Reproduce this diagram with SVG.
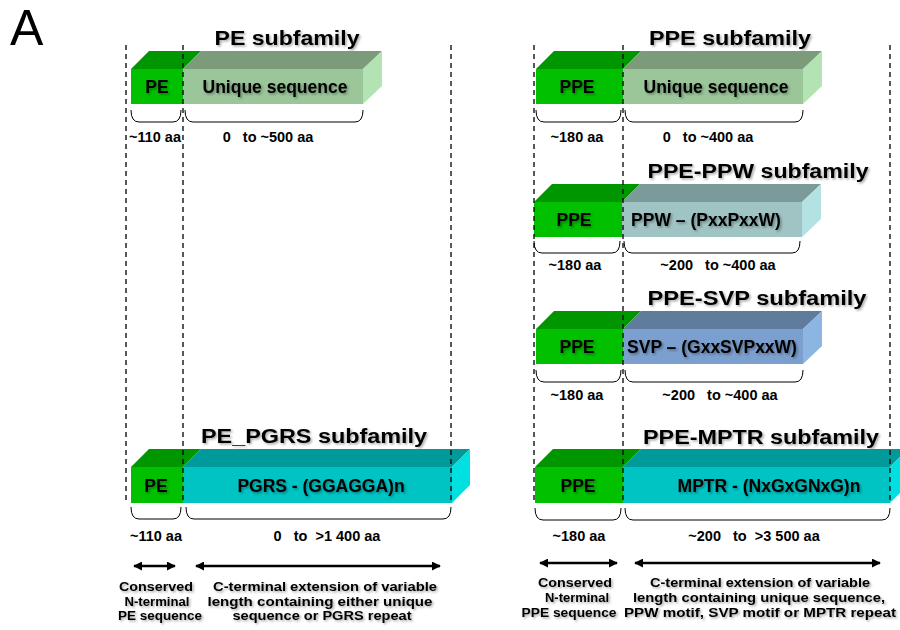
<svg xmlns="http://www.w3.org/2000/svg" width="900" height="630" viewBox="0 0 900 630">
<defs>
<filter id="sh" x="-10%" y="-30%" width="120%" height="160%">
<feDropShadow dx="1.5" dy="1.5" stdDeviation="0.8" flood-color="#000" flood-opacity="0.35"/>
</filter>
<marker id="ah" viewBox="0 0 10 10" refX="9" refY="5" markerWidth="3.6" markerHeight="3.6" orient="auto-start-reverse" markerUnits="strokeWidth">
<path d="M0,0 L10,5 L0,10 Z" fill="#000"/>
</marker>
</defs>
<style>
text{font-family:"Liberation Sans",Arial,sans-serif;font-weight:bold;fill:#000;white-space:pre}
.title{font-size:20px;text-anchor:middle;filter:url(#sh)}
.blk{font-size:17.5px;text-anchor:middle;filter:url(#sh)}
.lbl{font-size:14.5px;text-anchor:middle}
.note{font-size:12.5px;text-anchor:middle;filter:url(#sh)}
.dash{stroke:#000;stroke-width:1.3;stroke-dasharray:5,4;fill:none}
.brace{stroke:#000;stroke-width:1;fill:none}
.arr{stroke:#000;stroke-width:2.5;fill:none;marker-start:url(#ah);marker-end:url(#ah)}
.peF{fill:#00c000}.peT{fill:#009600}
.uqF{fill:#9ac69a}.uqT{fill:#7b9b7b}.uqS{fill:#b3e3b3}
.pwF{fill:#a0c3c3}.pwT{fill:#7b9a9a}.pwS{fill:#b4e2e2}
.svF{fill:#7b9fcf}.svT{fill:#5f7c9c}.svS{fill:#8cb5e2}
.cyF{fill:#00c4c4}.cyT{fill:#009a9a}.cyS{fill:#00e0e0}
</style>
<rect width="900" height="630" fill="#fff"/>
<text x="10" y="45" style="font-weight:normal;font-size:50px">A</text>

<g id="pe-subfamily">
<text class="title" x="287" y="45" textLength="145" lengthAdjust="spacingAndGlyphs">PE subfamily</text>
<polygon class="peT" points="131,69 149,51 201,51 183,69"/>
<rect class="peF" x="131" y="69" width="52" height="35"/>
<polygon class="uqT" points="183,69 201,51 382,51 363,69"/>
<polygon class="uqS" points="363,69 382,51 382,86 363,104"/>
<rect class="uqF" x="183" y="69" width="180" height="35"/>
<text class="blk" x="157" y="93">PE</text>
<text class="blk" x="275" y="93">Unique sequence</text>
<path class="brace" d="M131,110 Q131,122 139,122 L173,122 Q181,122 181,110"/>
<path class="brace" d="M185,110 Q185,122 193,122 L355,122 Q363,122 363,110"/>
<text class="lbl" x="155" y="142">~110 aa</text>
<text class="lbl" x="268" y="142">0   to ~500 aa</text>
</g>

<g id="ppe-subfamily">
<text class="title" x="730" y="45" textLength="162" lengthAdjust="spacingAndGlyphs">PPE subfamily</text>
<polygon class="peT" points="536,69 554,51 641,51 623,69"/>
<rect class="peF" x="536" y="69" width="87" height="35"/>
<polygon class="uqT" points="623,69 641,51 822,51 803,69"/>
<polygon class="uqS" points="803,69 822,51 822,86 803,104"/>
<rect class="uqF" x="623" y="69" width="180" height="35"/>
<text class="blk" x="577" y="93">PPE</text>
<text class="blk" x="716" y="93">Unique sequence</text>
<path class="brace" d="M536,110 Q536,122 544,122 L613,122 Q621,122 621,110"/>
<path class="brace" d="M625,110 Q625,122 633,122 L795,122 Q803,122 803,110"/>
<text class="lbl" x="577" y="142">~180 aa</text>
<text class="lbl" x="708" y="142">0   to ~400 aa</text>
</g>

<g id="ppe-ppw-subfamily">
<text class="title" x="758" y="178" textLength="221" lengthAdjust="spacingAndGlyphs">PPE-PPW subfamily</text>
<polygon class="peT" points="534,202 552,184 640,184 622,202"/>
<rect class="peF" x="534" y="202" width="88" height="35"/>
<polygon class="pwT" points="622,202 640,184 821,184 802,202"/>
<polygon class="pwS" points="802,202 821,184 821,219 802,237"/>
<rect class="pwF" x="622" y="202" width="180" height="35"/>
<text class="blk" x="574" y="226">PPE</text>
<text class="blk" x="706" y="226">PPW – (PxxPxxW)</text>
<path class="brace" d="M534,241 Q534,253 542,253 L612,253 Q620,253 620,241"/>
<path class="brace" d="M624,241 Q624,253 632,253 L792,253 Q800,253 800,241"/>
<text class="lbl" x="575" y="270">~180 aa</text>
<text class="lbl" x="718" y="270">~200   to ~400 aa</text>
</g>

<g id="ppe-svp-subfamily">
<text class="title" x="757" y="305" textLength="219" lengthAdjust="spacingAndGlyphs">PPE-SVP subfamily</text>
<polygon class="peT" points="536,329 554,311 641,311 623,329"/>
<rect class="peF" x="536" y="329" width="87" height="35"/>
<polygon class="svT" points="623,329 641,311 822,311 803,329"/>
<polygon class="svS" points="803,329 822,311 822,346 803,364"/>
<rect class="svF" x="623" y="329" width="180" height="35"/>
<text class="blk" x="577" y="353">PPE</text>
<text class="blk" x="712" y="353">SVP – (GxxSVPxxW)</text>
<path class="brace" d="M536,370 Q536,382 544,382 L613,382 Q621,382 621,370"/>
<path class="brace" d="M625,370 Q625,382 633,382 L795,382 Q803,382 803,370"/>
<text class="lbl" x="577" y="400">~180 aa</text>
<text class="lbl" x="720" y="400">~200   to ~400 aa</text>
</g>

<g id="pe-pgrs-subfamily">
<text class="title" x="314" y="443" textLength="226" lengthAdjust="spacingAndGlyphs">PE_PGRS subfamily</text>
<polygon class="peT" points="131,467 149,449 201,449 183,467"/>
<rect class="peF" x="131" y="467" width="52" height="36"/>
<polygon class="cyT" points="183,467 201,449 470,449 452,467"/>
<polygon class="cyS" points="452,467 470,449 470,485 452,503"/>
<rect class="cyF" x="183" y="467" width="269" height="36"/>
<text class="blk" x="156" y="492">PE</text>
<text class="blk" x="321" y="492">PGRS - (GGAGGA)n</text>
<path class="brace" d="M131,507 Q131,519 139,519 L173,519 Q181,519 181,507"/>
<path class="brace" d="M186,507 Q186,519 194,519 L443,519 Q451,519 451,507"/>
<text class="lbl" x="156" y="541">~110 aa</text>
<text class="lbl" x="327" y="541">0   to  &gt;1 400 aa</text>
</g>

<g id="ppe-mptr-subfamily">
<text class="title" x="761" y="444" textLength="236" lengthAdjust="spacingAndGlyphs">PPE-MPTR subfamily</text>
<polygon class="peT" points="535,467 553,449 641,449 623,467"/>
<rect class="peF" x="535" y="467" width="88" height="36"/>
<polygon class="cyT" points="623,467 641,449 908,449 890,467"/>
<polygon class="cyS" points="890,467 908,449 908,485 890,503"/>
<rect class="cyF" x="623" y="467" width="267" height="36"/>
<text class="blk" x="578" y="492">PPE</text>
<text class="blk" x="769" y="492">MPTR - (NxGxGNxG)n</text>
<path class="brace" d="M535,508 Q535,520 543,520 L613,520 Q621,520 621,508"/>
<path class="brace" d="M625,508 Q625,520 633,520 L882,520 Q890,520 890,508"/>
<text class="lbl" x="579" y="541">~180 aa</text>
<text class="lbl" x="754" y="541">~200   to  &gt;3 500 aa</text>
</g>

<g id="connectors">
<line class="dash" x1="126" y1="45" x2="126" y2="503"/>
<line class="dash" x1="183" y1="45" x2="183" y2="503"/>
<line class="dash" x1="451" y1="45" x2="451" y2="503"/>
<line class="dash" x1="534" y1="45" x2="534" y2="503"/>
<line class="dash" x1="623" y1="45" x2="623" y2="503"/>
<line class="dash" x1="890" y1="45" x2="890" y2="503"/>
<line class="arr" x1="134" y1="566" x2="175" y2="566"/>
<line class="arr" x1="196" y1="566" x2="440" y2="566"/>
<line class="arr" x1="540" y1="563" x2="617" y2="563"/>
<line class="arr" x1="635" y1="563" x2="880" y2="563"/>
</g>

<g id="note-left">
<text class="note" x="156" y="591" textLength="74" lengthAdjust="spacingAndGlyphs">Conserved</text>
<text class="note" x="157" y="605.5" textLength="65" lengthAdjust="spacingAndGlyphs">N-terminal</text>
<text class="note" x="160" y="620" textLength="84" lengthAdjust="spacingAndGlyphs">PE sequence</text>
<text class="note" x="325" y="591" textLength="224" lengthAdjust="spacingAndGlyphs">C-terminal extension of variable</text>
<text class="note" x="320" y="605.5" textLength="225" lengthAdjust="spacingAndGlyphs">length containing either unique</text>
<text class="note" x="322" y="620" textLength="179" lengthAdjust="spacingAndGlyphs">sequence or PGRS repeat</text>
</g>
<g id="note-right">
<text class="note" x="575" y="587" textLength="74" lengthAdjust="spacingAndGlyphs">Conserved</text>
<text class="note" x="577" y="602" textLength="64" lengthAdjust="spacingAndGlyphs">N-terminal</text>
<text class="note" x="569" y="617" textLength="95" lengthAdjust="spacingAndGlyphs">PPE sequence</text>
<text class="note" x="760" y="617" textLength="272" lengthAdjust="spacingAndGlyphs">PPW motif, SVP motif or MPTR repeat</text>
<text class="note" x="760" y="587" textLength="220" lengthAdjust="spacingAndGlyphs">C-terminal extension of variable</text>
<text class="note" x="759" y="602" textLength="252" lengthAdjust="spacingAndGlyphs">length containing unique sequence,</text>
</g>
</svg>
